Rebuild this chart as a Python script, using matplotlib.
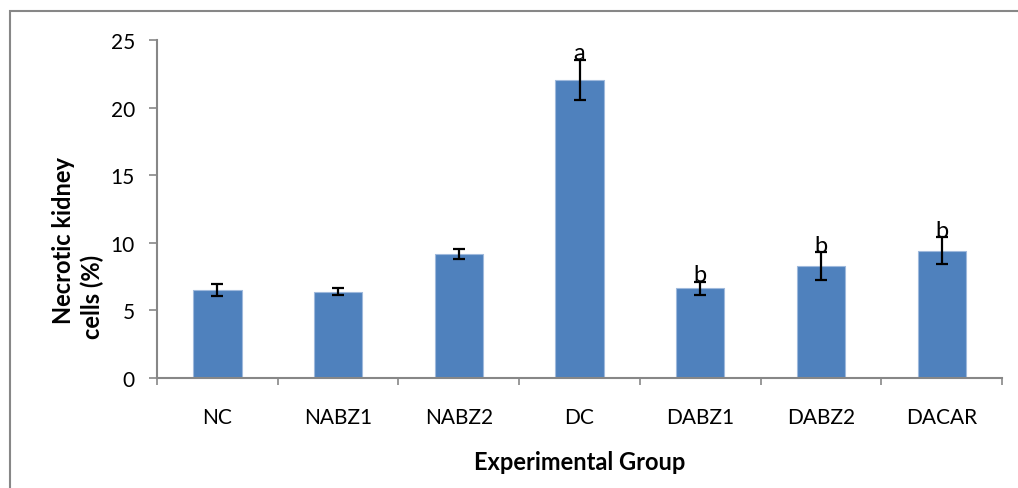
import matplotlib.pyplot as plt
from matplotlib.patches import Rectangle


groups = ["NC", "NABZ1", "NABZ2", "DC", "DABZ1", "DABZ2", "DACAR"]
means = [6.5, 6.37, 9.14, 22.03, 6.62, 8.25, 9.39]
errors = [0.45, 0.27, 0.37, 1.5, 0.5, 1.02, 1.0]
letters = ["", "", "", "a", "b", "b", "b"]

plt.rcParams["font.family"] = ["Lato", "DejaVu Sans"]

fig = plt.figure(figsize=(10.18, 4.89), dpi=100)
W, H = 1018, 489
ax = fig.add_axes([157 / W, 1 - 378.7 / H, (1002 - 157) / W, (378.7 - 41) / H])

# outer chart border (cut off at right/bottom like the screenshot)
fig.patches.append(Rectangle((10 / W, -0.1), 1.2, 1 - 12 / H + 0.1,
                             transform=fig.transFigure, fill=False,
                             edgecolor="#878787", linewidth=1.5))

x = list(range(len(groups)))
ax.bar(x, means, width=0.4, color="#4F81BD", edgecolor="#9fb9dc", linewidth=0.8,
       yerr=errors, error_kw=dict(ecolor="black", elinewidth=1.6, capsize=4.5, capthick=1.6),
       zorder=2)

for xi, m, e, lab in zip(x, means, errors, letters):
    if lab:
        ax.text(xi, m + e + 0.05, lab, ha="center", va="baseline", fontsize=17,
                zorder=3)

ax.set_xlim(-0.5, len(groups) - 0.5)
ax.set_ylim(0, 25)
ax.set_yticks([0, 5, 10, 15, 20, 25])
ax.set_xticks([i - 0.5 for i in range(len(groups) + 1)])
ax.set_xticklabels([])
ax.set_xticks(x, minor=True)
ax.set_xticklabels(groups, minor=True)

for s in ["top", "right"]:
    ax.spines[s].set_visible(False)
for s in ["left", "bottom"]:
    ax.spines[s].set_color("#878787")
    ax.spines[s].set_linewidth(1.5)

ax.tick_params(axis="y", direction="out", length=6, width=1.2, color="#878787",
               labelsize=15, pad=10)
ax.tick_params(axis="x", which="major", direction="out", length=5, width=1.2,
               color="#878787")
ax.tick_params(axis="x", which="minor", length=0, labelsize=15, pad=21)

fig.text(580 / W, 1 - 470 / H, "Experimental Group", ha="center", va="baseline",
         fontsize=17, fontweight="bold")
fig.text(64 / W, 1 - 240 / H, "Necrotic kidney", ha="center", va="center",
         rotation=90, fontsize=17, fontweight="bold")
fig.text(92 / W, 1 - 297 / H, "cells (%)", ha="center", va="center",
         rotation=90, fontsize=17, fontweight="bold")

fig.savefig("out.png", dpi=100)
